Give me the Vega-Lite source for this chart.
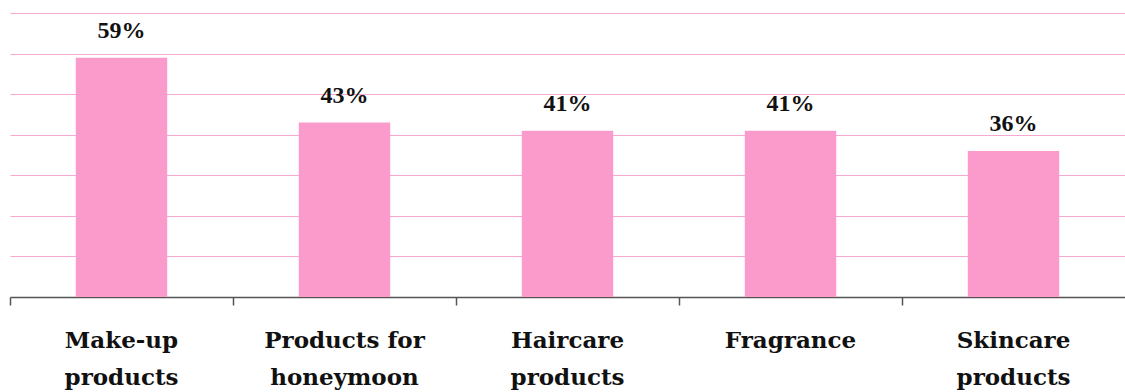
{
  "$schema": "https://vega.github.io/schema/vega-lite/v6.json",
  "width": 1115,
  "height": 284,
  "autosize": "none",
  "padding": {"left": 10, "top": 13, "right": 0, "bottom": 95},
  "background": "white",
  "config": {"view": {"stroke": null}},
  "data": {
    "values": [
      {"category": "Make-up products", "value": 0.59},
      {"category": "Products for honeymoon", "value": 0.43},
      {"category": "Haircare products", "value": 0.41},
      {"category": "Fragrance", "value": 0.41},
      {"category": "Skincare products", "value": 0.36}
    ]
  },
  "encoding": {
    "x": {
      "field": "category",
      "type": "nominal",
      "sort": null,
      "scale": {"paddingInner": 0, "paddingOuter": 0},
      "axis": {
        "title": null,
        "labelAngle": 0,
        "labelExpr": "datum.value == 'Products for honeymoon' ? ['Products for', 'honeymoon'] : split(datum.value, ' ')",
        "labelFont": "DejaVu Serif",
        "labelFontWeight": "bold",
        "labelFontSize": 23,
        "labelLineHeight": 37,
        "labelColor": "#111111",
        "labelPadding": 24,
        "labelBaseline": "top",
        "bandPosition": 0,
        "tickColor": "#555555",
        "tickSize": 8,
        "tickWidth": 1.5,
        "domainColor": "#555555",
        "domainWidth": 1.5,
        "grid": false
      }
    },
    "y": {
      "field": "value",
      "type": "quantitative",
      "scale": {"domain": [0, 0.7]},
      "axis": {
        "title": null,
        "labels": false,
        "ticks": false,
        "domain": false,
        "grid": true,
        "values": [0.1, 0.2, 0.3, 0.4, 0.5, 0.6, 0.7],
        "gridColor": "#f6a9cf",
        "gridWidth": 1.2
      }
    }
  },
  "layer": [
    {
      "mark": {"type": "bar", "color": "#fa9bcb", "width": {"band": 0.41}}
    },
    {
      "mark": {
        "type": "text",
        "dy": -27,
        "font": "Liberation Serif",
        "fontWeight": "bold",
        "fontSize": 24,
        "color": "#111111"
      },
      "encoding": {
        "text": {"field": "value", "type": "quantitative", "format": ".0%"}
      }
    }
  ]
}
